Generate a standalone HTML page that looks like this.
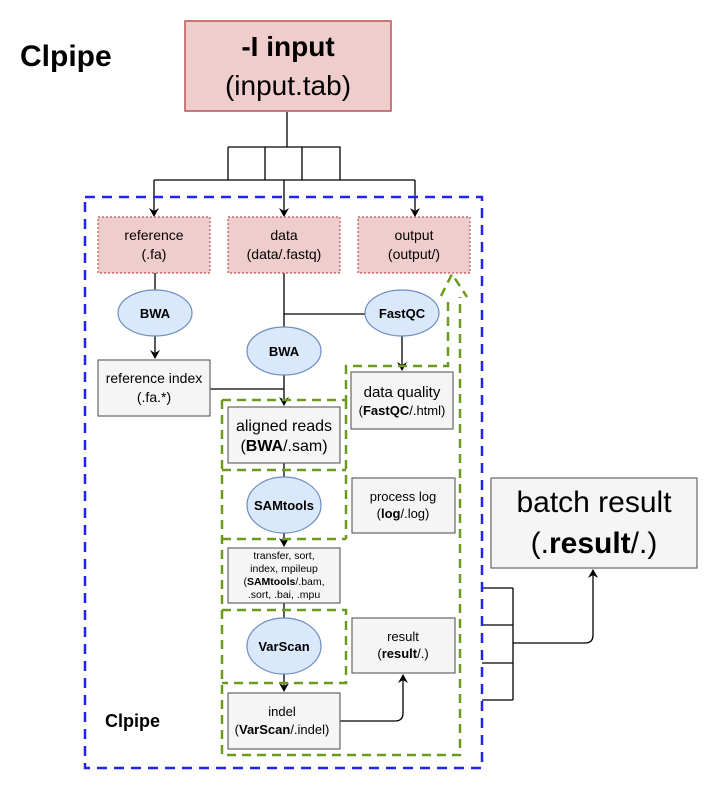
<!DOCTYPE html>
<html><head><meta charset="utf-8"><style>
html,body{margin:0;padding:0;background:#fff}
svg{display:block;font-family:"Liberation Sans",Arial,sans-serif}
</style></head><body>
<svg width="715" height="800" viewBox="0 0 715 800" xmlns="http://www.w3.org/2000/svg">
<defs>
<marker id="a" markerWidth="10" markerHeight="10" refX="8" refY="5" orient="auto" markerUnits="userSpaceOnUse">
<path d="M0,0 L9,5 L0,10 L3,5 Z" fill="#000"/></marker>
</defs>
<text x="20" y="66" font-size="30" font-weight="bold">Clpipe</text>
<rect x="185" y="21" width="206" height="90" fill="#f0cdcd" stroke="#b85450" stroke-width="1.5"/>
<text x="288" y="56" font-size="28" font-weight="bold" text-anchor="middle">-I input</text>
<text x="288" y="95" font-size="28" text-anchor="middle">(input.tab)</text>

<g stroke="#000" stroke-width="1.3" fill="none">
<path d="M287,112 V147 M228,147 H340 V180 M228,147 V180 M265,147 V180 M302,147 V180 M154,180 H415"/>
<path d="M154,180 V216" marker-end="url(#a)"/>
<path d="M284,180 V216" marker-end="url(#a)"/>
<path d="M415,180 V216" marker-end="url(#a)"/>
<path d="M155,273 V290"/>
<path d="M155,336 V358" marker-end="url(#a)"/>
<path d="M284,273 V327 M284,314 H365"/>
<path d="M402,336 V370" marker-end="url(#a)"/>
<path d="M210,389 H284"/>
<path d="M284,374 V405" marker-end="url(#a)"/>
<path d="M284,463 V478"/>
<path d="M284,533 V546" marker-end="url(#a)"/>
<path d="M284,603 V618"/>
<path d="M284,674 V691" marker-end="url(#a)"/>
<path d="M340,721 H395 Q403,721 403,713 V675" marker-end="url(#a)"/>
<path d="M482,588 H513 M482,625 H513 M482,663 H513 M482,700 H513 M513,588 V700 M513,643 H585 Q593,643 593,635 V570" marker-end="url(#a)"/>
</g>

<rect x="85" y="197" width="397" height="571" fill="none" stroke="#2323f0" stroke-width="2.5" stroke-dasharray="10,7"/>

<g fill="#f0cdcd" stroke="#b85450" stroke-width="1.2" stroke-dasharray="2,2">
<rect x="98" y="217" width="112" height="56"/>
<rect x="228" y="217" width="112" height="56"/>
<rect x="358" y="217" width="112" height="56"/>
</g>
<g font-size="14" text-anchor="middle">
<text x="154" y="240">reference</text><text x="154" y="259">(.fa)</text>
<text x="284" y="240">data</text><text x="284" y="259">(data/.fastq)</text>
<text x="414" y="240">output</text><text x="414" y="259">(output/)</text>
</g>

<g fill="#dae8fc" stroke="#6c8ebf" stroke-width="1.2">
<ellipse cx="155" cy="313" rx="37" ry="23"/>
<ellipse cx="284" cy="351" rx="37" ry="24"/>
<ellipse cx="402" cy="313" rx="37" ry="23"/>
<ellipse cx="284" cy="505" rx="37" ry="28"/>
<ellipse cx="284" cy="646" rx="37" ry="28"/>
</g>
<g font-size="13" font-weight="bold" text-anchor="middle">
<text x="155" y="318">BWA</text>
<text x="284" y="356">BWA</text>
<text x="402" y="318">FastQC</text>
<text x="284" y="510">SAMtools</text>
<text x="284" y="651">VarScan</text>
</g>

<g fill="#f5f5f5" stroke="#666" stroke-width="1.2">
<rect x="98" y="360" width="112" height="56"/>
<rect x="351" y="372" width="102" height="57"/>
<rect x="228" y="407" width="112" height="56"/>
<rect x="352" y="478" width="103" height="55"/>
<rect x="228" y="548" width="112" height="55"/>
<rect x="352" y="618" width="103" height="55"/>
<rect x="228" y="693" width="112" height="56"/>
<rect x="491" y="478" width="206" height="90"/>
</g>
<g text-anchor="middle">
<text x="154" y="383" font-size="14">reference index</text>
<text x="154" y="402" font-size="14">(.fa.*)</text>
<text x="402" y="397" font-size="15">data quality</text>
<text x="402" y="415" font-size="13">(<tspan font-weight="bold">FastQC</tspan>/.html)</text>
<text x="284" y="431" font-size="16">aligned reads</text>
<text x="284" y="451" font-size="16">(<tspan font-weight="bold">BWA</tspan>/.sam)</text>
<text x="403" y="501" font-size="13">process log</text>
<text x="403" y="518" font-size="13">(<tspan font-weight="bold">log</tspan>/.log)</text>
<text x="284" y="559" font-size="10.5">transfer, sort,</text>
<text x="284" y="572" font-size="10.5">index, mpileup</text>
<text x="284" y="585" font-size="10.5">(<tspan font-weight="bold">SAMtools</tspan>/.bam,</text>
<text x="284" y="598" font-size="10.5">.sort, .bai, .mpu</text>
<text x="403" y="641" font-size="13">result</text>
<text x="403" y="658" font-size="13">(<tspan font-weight="bold">result</tspan>/.)</text>
<text x="282" y="716" font-size="13">indel</text>
<text x="282" y="734" font-size="13">(<tspan font-weight="bold">VarScan</tspan>/.indel)</text>
<text x="594" y="512" font-size="30">batch result</text>
<text x="594" y="553" font-size="30">(.<tspan font-weight="bold">result</tspan>/.)</text>
</g>
<text x="105" y="727" font-size="18" font-weight="bold">Clpipe</text>

<g stroke="#6a9a1f" stroke-width="2.5" fill="none" stroke-dasharray="9,6">
<path d="M222,400 V755 H460 V297"/>
<path d="M222,400 H346 V366 H448 V297"/>
<path d="M346,400 V539"/>
<path d="M222,470 H346"/>
<path d="M222,539 H346"/>
<path d="M222,610 H346 V683 H222"/>
</g>
<path d="M441,296 L452,274 L467,297" fill="none" stroke="#6a9a1f" stroke-width="2.5" stroke-dasharray="9,6"/>
</svg>
</body></html>
